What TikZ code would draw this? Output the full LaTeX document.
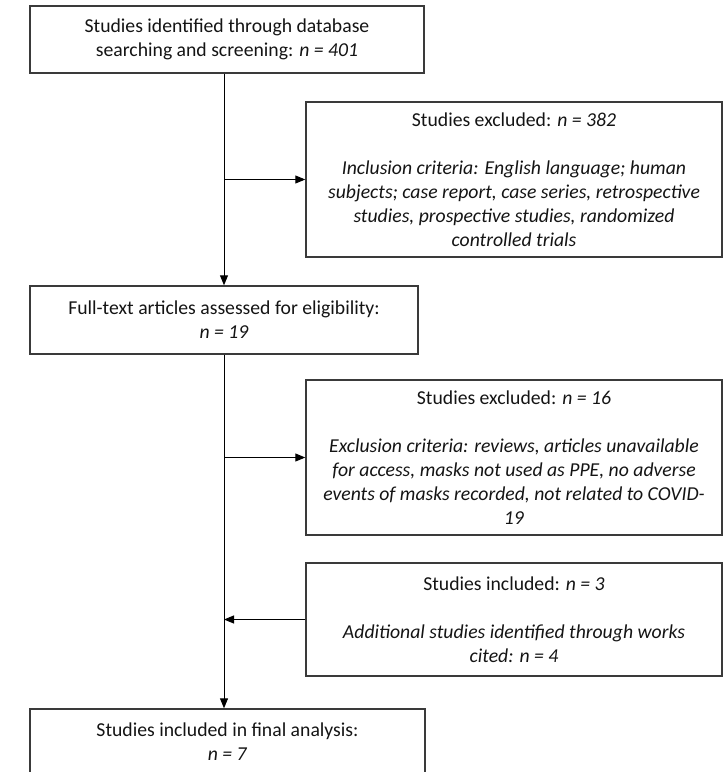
\documentclass[tikz,border=0pt]{standalone}
\usepackage{fontspec}
\setmainfont{Carlito}
\usetikzlibrary{arrows.meta}
\definecolor{boxgray}{HTML}{3a3a3a}
\definecolor{textgray}{HTML}{141414}
\tikzset{
  flowbox/.style={draw=boxgray, line width=1.4pt, inner sep=0pt, align=center,
    text=textgray, font=\fontsize{19.7}{24}\selectfont},
  flowarrow/.style={draw=black, line width=1pt, -{Triangle[length=10pt,width=8pt]}}
}

\begin{document}
\begin{tikzpicture}[x=1pt, y=-1pt]
	\useasboundingbox (0,0) rectangle (723,775);
	\begin{scope}
		\clip (0,0) rectangle (723,771.5);
		% left column
		\node[flowbox, minimum width=394pt, minimum height=67pt] (ident) at (227,39.5)
			{Studies identified through database\\ searching and screening: \textit{n = 401}};
		\node[flowbox, minimum width=388pt, minimum height=68pt] (fulltext) at (224,320)
			{Full-text articles assessed for eligibility:\\ \textit{n = 19}};
		\node[flowbox, minimum width=395pt, minimum height=66pt] (final) at (227.5,742)
			{Studies included in final analysis:\\ \textit{n = 7}};
		% right column
		\node[flowbox, minimum width=416pt, minimum height=155pt] (excl1) at (514,179.5)
			{Studies excluded: \textit{n = 382}\\[24pt]
			 \textit{Inclusion criteria: English language; human}\\
			 \textit{subjects; case report, case series, retrospective}\\
			 \textit{studies, prospective studies, randomized}\\
			 \textit{controlled trials}};
		\node[flowbox, minimum width=416pt, minimum height=155pt] (excl2) at (514,457.5)
			{Studies excluded: \textit{n = 16}\\[24pt]
			 \textit{Exclusion criteria: reviews, articles unavailable}\\
			 \textit{for access, masks not used as PPE, no adverse}\\
			 \textit{events of masks recorded, not related to COVID-}\\
			 \textit{19}};
		\node[flowbox, minimum width=416pt, minimum height=113pt] (incl) at (514,619.5)
			{Studies included: \textit{n = 3}\\[24pt]
			 \textit{Additional studies identified through works}\\
			 \textit{cited: n = 4}};
		% connectors
		\draw[flowarrow] (ident.south -| fulltext.north) -- (fulltext.north);
		\draw[flowarrow] (fulltext.south) -- (final.north -| fulltext.south);
		\draw[flowarrow] (excl1.west -| fulltext.north) -- (excl1.west);
		\draw[flowarrow] (excl2.west -| fulltext.south) -- (excl2.west);
		\draw[flowarrow] (incl.west) -- (incl.west -| fulltext.south);
	\end{scope}
\end{tikzpicture}
\end{document}
